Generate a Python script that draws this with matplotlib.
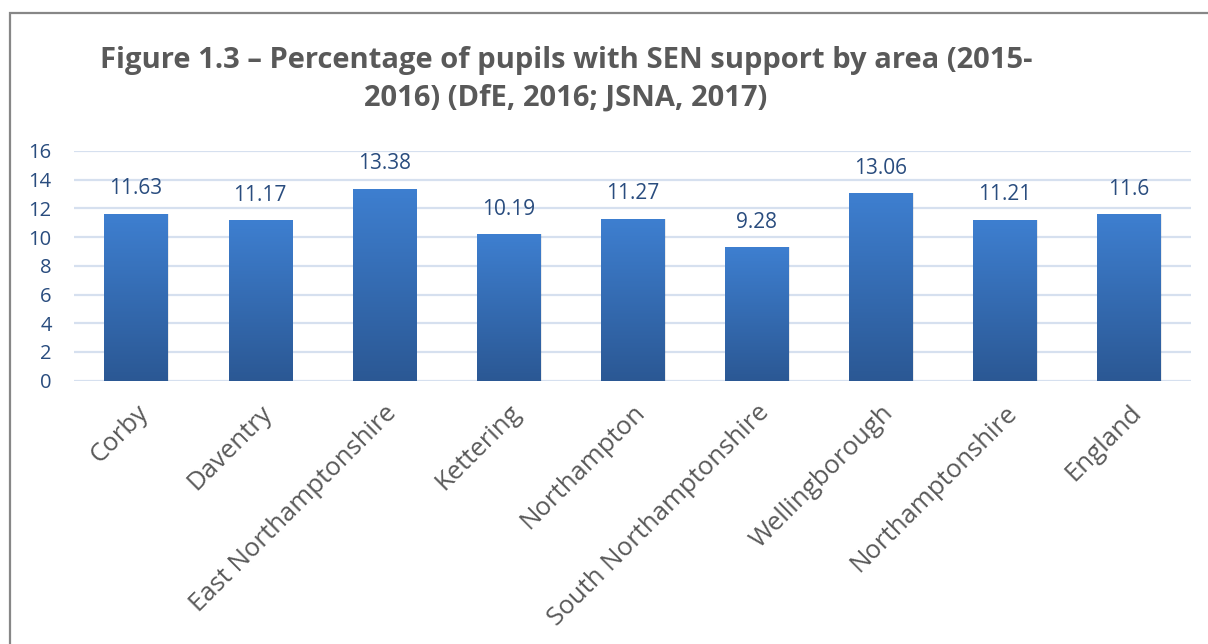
import matplotlib
matplotlib.use("Agg")
import matplotlib.pyplot as plt
import numpy as np
from matplotlib.patches import Rectangle
from matplotlib.colors import LinearSegmentedColormap

categories = ["Corby", "Daventry", "East Northamptonshire", "Kettering", "Northampton",
              "South Northamptonshire", "Wellingborough", "Northamptonshire", "England"]
values = [11.63, 11.17, 13.38, 10.19, 11.27, 9.28, 13.06, 11.21, 11.6]
value_labels = ["11.63", "11.17", "13.38", "10.19", "11.27", "9.28", "13.06", "11.21", "11.6"]
yticks = [0, 2, 4, 6, 8, 10, 12, 14, 16]
title = "Figure 1.3 \u2013 Percentage of pupils with SEN support by area (2015-\n2016) (DfE, 2016; JSNA, 2017)"

W, H = 1208, 644
fig = plt.figure(figsize=(W / 100, H / 100), dpi=100)
fig.patch.set_facecolor("white")

ax = fig.add_axes([74 / W, 1 - 380.7 / H, (1191 - 74) / W, (380.7 - 151) / H])
ax.set_facecolor("none")
x = np.arange(len(categories))
ax.set_xlim(-0.5, len(categories) - 0.5)
ax.set_ylim(0, 16)

grid_col = "#D6E0EF"
for t in yticks:
    ax.axhline(t, color=grid_col, lw=1.6, zorder=0)

bw = 0.51
bars = ax.bar(x, values, width=bw, color="none", zorder=2)
cmap = LinearSegmentedColormap.from_list("g", ["#2B5894", "#3E7FD0"])
grad = np.linspace(0, 1, 256).reshape(-1, 1)
for b in bars:
    x0, y0 = b.get_x(), b.get_y()
    w, h = b.get_width(), b.get_height()
    sh = Rectangle((x0 + 0.012, y0), w, h, facecolor="#000000", alpha=0.08, zorder=1, lw=0)
    ax.add_patch(sh)
    im = ax.imshow(grad, extent=[x0, x0 + w, y0, y0 + h], origin="lower", cmap=cmap,
                   aspect="auto", zorder=2)
    im.set_clip_path(b)
ax.set_xlim(-0.5, len(categories) - 0.5)
ax.set_ylim(0, 16)

num_col = "#294C7E"
for xi, v, lab in zip(x, values, value_labels):
    ax.annotate(lab, (xi, v), xytext=(0, 18), textcoords="offset points",
                ha="center", va="center", fontsize=15, color=num_col,
                family="Open Sans", zorder=3)

for s in ax.spines.values():
    s.set_visible(False)
ax.set_yticks(yticks)
ax.set_yticklabels([str(t) for t in yticks], fontsize=14.5, color=num_col, family="Open Sans")
ax.tick_params(axis="y", length=0, pad=16)
ax.set_xticks(x)
ax.set_xticklabels(categories, rotation=45, ha="right", rotation_mode="anchor",
                   fontsize=18.5, color="#595959", family="Open Sans")
ax.tick_params(axis="x", length=0, pad=14)

fig.text(566 / W, 1 - 79 / H, title, ha="center", va="center", multialignment="center",
         fontsize=21, fontweight="bold", color="#595959", family="Open Sans", linespacing=1.4)

border = Rectangle((9.5 / W, -0.1), 1.2, 1 - 13 / H + 0.1, transform=fig.transFigure,
                   fill=False, edgecolor="#878787", lw=1.6)
fig.patches.append(border)

fig.savefig("out.png", dpi=100, facecolor="white")
